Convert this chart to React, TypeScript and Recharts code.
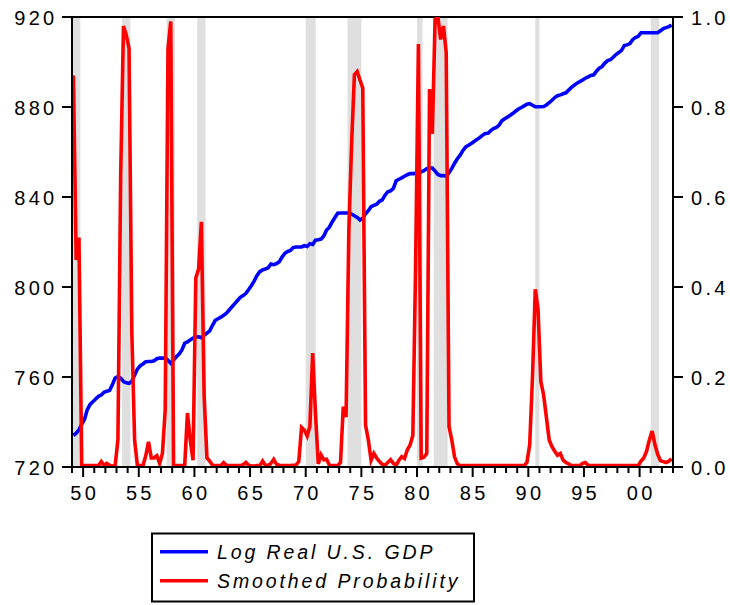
import {
  ComposedChart,
  Line,
  ReferenceArea,
  ReferenceLine,
  XAxis,
  YAxis,
} from "recharts";

const FONT = '"Liberation Sans", Arial, sans-serif';
const START_YEAR = 1949;

// log real GDP (x100), quarterly 1949Q1..2002Q4
const gdp = [
  734, 735, 736.5, 739, // 1949
  741.2, 745.5, 747.8, 749,
  750.2, 751.4, 752, 753.2,
  753.7, 754, 756.5, 759.5,
  760.2, 759.5, 758, 757.4,
  757.2, 758, 760.8, 763.5,
  765, 765.8, 766.8, 766.9,
  766.9, 767.2, 768.1, 768.4,
  768.4, 768.4, 767.4, 766.1,
  767.5, 769, 770.2, 772,
  775, 775.6, 776.5, 777.3, // 1959
  777.8, 777.9, 777.5, 778.5,
  779.5, 780.5, 783, 785.2,
  785.9, 786.6, 787.4, 788.4,
  789.8, 791.2, 792.6, 794,
  795.4, 796.2, 797.2, 798.9,
  800.7, 802.7, 805.1, 806.8,
  807.6, 808, 808.5, 810.2,
  809.9, 810.4, 811.2, 813.3,
  815, 815.8, 816.2, 817.5,
  817.8, 817.8, 817.8, 818.4, // 1969
  818, 819.2, 818.9, 820.8,
  821, 821.3, 822.7, 825.3,
  826.6, 828.9, 830.9, 832.8,
  832.9, 832.9, 832.9, 832.9,
  832.4, 831.7, 830.9, 829.8,
  830.5, 832.6, 833.9, 835.7,
  836.3, 836.8, 838.1, 838.7,
  840.8, 842.3, 842.7, 843.8,
  847.2, 847.9, 848.5, 849.2,
  849.9, 850.4, 850.4, 850.5, // 1979
  850.8, 851.2, 851.7, 852.6,
  852.9, 852.9, 851.5, 850,
  849.5, 849.5, 849.2, 850.8,
  852.7, 855, 857, 858.6,
  860.7, 862.3, 863, 863.8,
  864.7, 865.5, 866.4, 867.4,
  868.2, 868.3, 869.5, 870.4,
  870.9, 872, 873.9, 874.8,
  875.5, 876.3, 877.2, 878.2,
  879.1, 879.8, 880.5, 881.2, // 1989
  881.5, 880.8, 880.1, 880.1,
  880.1, 880.2, 880.9, 881.9,
  883, 884.2, 885, 885.4,
  885.9, 886.3, 887.5, 888.7,
  889.7, 890.6, 891.3, 892,
  892.8, 893.4, 894, 894.3,
  895.9, 897.3, 898, 899.5,
  900.6, 901, 902.1, 903.3,
  904.2, 905.2, 907.3, 907.6,
  908.2, 909.9, 910.9, 911.4, // 1999
  913, 913, 913, 913,
  913, 913, 913, 913.9,
  914.8, 915.3, 915.7, 916.4, // 2002
];

// smoothed recession probability, same quarters
const probability = [
  0.87, 0.46, 0.51, 0.002, // 1949
  0.003, 0.003, 0.003, 0.003,
  0.003, 0.003, 0.012, 0.004,
  0.008, 0.004, 0.002, 0.003,
  0.06, 0.65, 0.98, 0.96,
  0.93, 0.3, 0.06, 0.003,
  0.003, 0.003, 0.025, 0.056,
  0.02, 0.02, 0.025, 0.008,
  0.03, 0.127, 0.93, 0.99,
  0.004, 0.003, 0.003, 0.003,
  0.003, 0.12, 0.06, 0.015, // 1959
  0.42, 0.44, 0.545, 0.157,
  0.02, 0.013, 0.004, 0.003,
  0.003, 0.003, 0.01, 0.004,
  0.003, 0.003, 0.003, 0.003,
  0.003, 0.005, 0.01, 0.004,
  0.002, 0.002, 0.003, 0.003,
  0.013, 0.004, 0.004, 0.008,
  0.017, 0.006, 0.004, 0.003,
  0.003, 0.003, 0.003, 0.004,
  0.004, 0.012, 0.088, 0.082, // 1969
  0.069, 0.09, 0.253, 0.12,
  0.007, 0.027, 0.016, 0.017,
  0.004, 0.003, 0.003, 0.003,
  0.01, 0.134, 0.111, 0.527,
  0.72, 0.872, 0.879, 0.86,
  0.842, 0.093, 0.06, 0.015,
  0.03, 0.02, 0.012, 0.006,
  0.004, 0.01, 0.016, 0.008,
  0.004, 0.015, 0.023, 0.019,
  0.038, 0.049, 0.07, 0.45, // 1979
  0.94, 0.02, 0.022, 0.03,
  0.84, 0.74, 0.995, 1.0,
  0.95, 0.98, 0.92, 0.09,
  0.06, 0.022, 0.007, 0.003,
  0.003, 0.003, 0.003, 0.003,
  0.003, 0.003, 0.003, 0.003,
  0.003, 0.003, 0.003, 0.003,
  0.003, 0.003, 0.003, 0.003,
  0.003, 0.003, 0.003, 0.003,
  0.003, 0.003, 0.003, 0.01, // 1989
  0.05, 0.2, 0.395, 0.35,
  0.19, 0.16, 0.11, 0.06,
  0.045, 0.035, 0.026, 0.03,
  0.015, 0.01, 0.007, 0.003,
  0.003, 0.003, 0.003, 0.008,
  0.01, 0.004, 0.003, 0.003,
  0.003, 0.003, 0.003, 0.003,
  0.003, 0.003, 0.003, 0.003,
  0.003, 0.003, 0.003, 0.003,
  0.003, 0.003, 0.003, 0.003, // 1999
  0.013, 0.02, 0.035, 0.06,
  0.08, 0.05, 0.028, 0.014,
  0.012, 0.01, 0.013, 0.018, // 2002
];

// shaded recession periods (decimal years)
const recessions: [number, number][] = [
  [1949.0, 1949.75],
  [1953.5, 1954.25],
  [1957.5, 1958.25],
  [1960.25, 1961.0],
  [1970.0, 1970.9],
  [1973.75, 1975.0],
  [1980.0, 1980.5],
  [1981.5, 1982.75],
  [1990.625, 1991.0],
  [2001.0, 2001.75],
];

const gdpTicks = [720, 760, 800, 840, 880, 920];
const probTicks = [0, 0.2, 0.4, 0.6, 0.8, 1.0];
const yearTicks = Array.from({ length: 55 }, (_, k) => START_YEAR + k);
const yearLabels: Record<number, string> = {
  1950: "50", 1955: "55", 1960: "60", 1965: "65", 1970: "70",
  1975: "75", 1980: "80", 1985: "85", 1990: "90", 1995: "95", 2000: "00",
};

const legendItems = [
  { name: "Log Real U.S. GDP", color: "#0000ff" },
  { name: "Smoothed Probability", color: "#ff0000" },
];

const data = gdp.map((v, i) => ({
  t: START_YEAR + i / 4 + 0.125,
  gdp: v,
  prob: probability[i],
}));

const labelStyle = {
  fontFamily: FONT,
  fontSize: 20,
  letterSpacing: 3.3,
  fill: "#000",
};

function YearTick({ x, y, payload }: any) {
  const label = yearLabels[payload.value];
  return (
    <g>
      <line
        x1={x}
        x2={x}
        y1={y}
        y2={y + (label ? 10 : 6)}
        stroke="#000"
        strokeWidth={2}
      />
      {label && (
        <text x={x} y={y + 33} dx={1.6} textAnchor="middle" {...labelStyle}>
          {label}
        </text>
      )}
    </g>
  );
}

function LeftTick({ x, y, payload }: any) {
  return (
    <text x={x} y={y} dy={7.5} textAnchor="end" {...labelStyle}>
      {payload.value}
    </text>
  );
}

function RightTick({ x, y, payload }: any) {
  return (
    <text x={x} y={y} dy={7.5} textAnchor="start" {...labelStyle}>
      {Number(payload.value).toFixed(1)}
    </text>
  );
}

function ChartLegend() {
  return (
    <svg
      width={326}
      height={72}
      style={{ position: "absolute", left: 150, top: 532 }}
    >
      <rect x={2} y={1.5} width={322} height={68} fill="#fff" stroke="#000" strokeWidth={2} />
      {legendItems.map((item, i) => (
        <g key={item.name}>
          <line
            x1={10}
            x2={58}
            y1={19.7 + i * 29}
            y2={19.7 + i * 29}
            stroke={item.color}
            strokeWidth={3.4}
          />
          <text
            x={67}
            y={27.3 + i * 29}
            fontFamily={FONT}
            fontSize={19.5}
            fontStyle="italic"
            letterSpacing={2.9}
            fill="#000"
          >
            {item.name}
          </text>
        </g>
      ))}
    </svg>
  );
}

export default function App() {
  return (
    <div
      style={{
        position: "absolute",
        left: 0,
        top: 0,
        width: 730,
        height: 605,
        background: "#fff",
      }}
    >
      <ComposedChart
        width={730}
        height={520}
        data={data}
        margin={{ top: 17, right: 0, bottom: 13, left: 0 }}
      >
        {recessions.map(([a, b]) => (
          <ReferenceArea
            key={a}
            x1={a}
            x2={b}
            yAxisId="left"
            fill="#dfdfdf"
            fillOpacity={1}
            stroke="none"
          />
        ))}
        <XAxis
          dataKey="t"
          type="number"
          domain={[1949, 2003]}
          ticks={yearTicks}
          interval={0}
          height={40}
          tickSize={0}
          tickMargin={0}
          tickLine={false}
          axisLine={{ stroke: "#000", strokeWidth: 2 }}
          tick={<YearTick />}
          allowDataOverflow
        />
        <YAxis
          yAxisId="left"
          domain={[720, 920]}
          ticks={gdpTicks}
          interval={0}
          width={72}
          tickSize={10}
          tickMargin={4.5}
          tickLine={{ stroke: "#000", strokeWidth: 2 }}
          axisLine={{ stroke: "#000", strokeWidth: 2 }}
          tick={<LeftTick />}
          allowDataOverflow
        />
        <YAxis
          yAxisId="right"
          orientation="right"
          domain={[0, 1]}
          ticks={probTicks}
          interval={0}
          width={57}
          tickSize={10}
          tickMargin={8}
          tickLine={{ stroke: "#000", strokeWidth: 2 }}
          axisLine={{ stroke: "#000", strokeWidth: 2 }}
          tick={<RightTick />}
          allowDataOverflow
        />
        <ReferenceLine yAxisId="left" y={920} stroke="#000" strokeWidth={2} />
        <Line
          yAxisId="left"
          type="linear"
          dataKey="gdp"
          stroke="#0000ff"
          strokeWidth={3.6}
          dot={false}
          isAnimationActive={false}
        />
        <Line
          yAxisId="right"
          type="linear"
          dataKey="prob"
          stroke="#ff0000"
          strokeWidth={3.6}
          dot={false}
          isAnimationActive={false}
        />
      </ComposedChart>
      <ChartLegend />
    </div>
  );
}
